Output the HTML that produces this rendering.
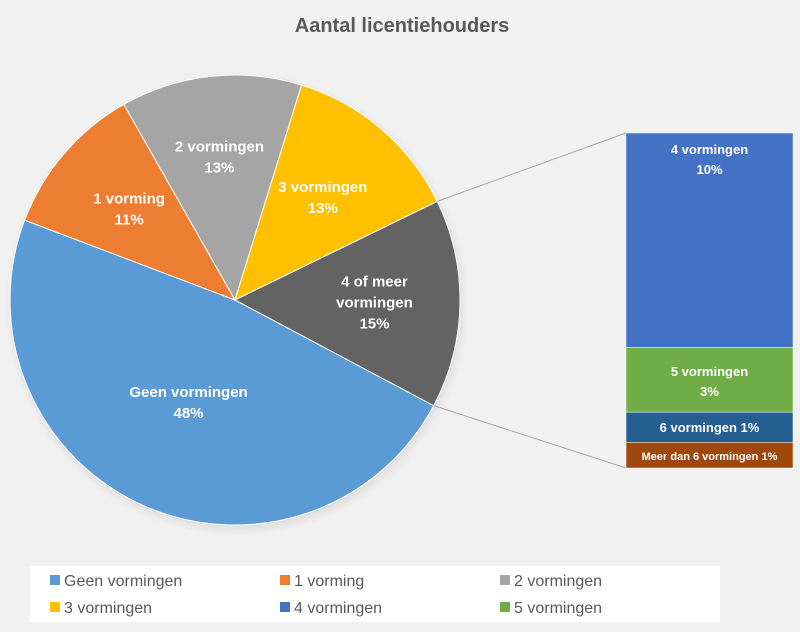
<!DOCTYPE html>
<html><head><meta charset="utf-8"><style>
html,body{margin:0;padding:0;width:800px;height:632px;overflow:hidden;background:#f1f1f1;font-family:"Liberation Sans",sans-serif}
svg{display:block}
</style></head><body>
<svg id="chart" width="800" height="632">
<defs>
<radialGradient id="sh" cx="50%" cy="50%" r="50%"><stop offset="85%" stop-color="#000" stop-opacity="0.25"/><stop offset="100%" stop-color="#000" stop-opacity="0"/></radialGradient>
</defs>
<text x="402" y="32" text-anchor="middle" font-size="20" font-weight="bold" fill="#595959">Aantal licentiehouders</text>
<circle cx="237" cy="304" r="232" fill="url(#sh)"/>
<g id="pie"></g>
<g id="bar"></g>
<rect x="30" y="566" width="690" height="56" fill="#ffffff"/>
<g id="legend"></g>
</svg>
<script>
const pieLabels=["Geen vormingen","1 vorming","2 vormingen","3 vormingen","4 of meer vormingen"];
const pieValues=[48,11,13,13,15];
const pieColors=["#5b9bd5","#ed7d31","#a5a5a5","#ffc000","#636363"];
const barLabels=["4 vormingen","5 vormingen","6 vormingen","Meer dan 6 vormingen"];
const barValues=[9.6,2.9,1.35,1.15];
const barPrinted=["10%","3%","1%","1%"];
const barColors=["#4472c4","#70ad47","#255e91","#9e480e"];
const legendLabels=["Geen vormingen","1 vorming","2 vormingen","3 vormingen","4 vormingen","5 vormingen"];
const legendColors=["#5b9bd5","#ed7d31","#a5a5a5","#ffc000","#4472c4","#70ad47"];

const NS="http://www.w3.org/2000/svg";
function mk(t,a,p){const e=document.createElementNS(NS,t);for(const k in a)e.setAttribute(k,a[k]);p.appendChild(e);return e;}
const cx=235,cy=300,R=225,start=28;
const total=pieValues.reduce((a,b)=>a+b,0);
function pt(deg,r){const a=deg*Math.PI/180;return [cx+r*Math.cos(a),cy+r*Math.sin(a)];}
const pie=document.getElementById('pie');
let ang=start;
const lblPos=[[0.5,0],[0.62,0],[0.64,0],[0.6,0],[0.62,0]];
pieValues.forEach((v,i)=>{
  const sw=v/total*360,a0=ang,a1=ang+sw;
  const p0=pt(a0,R),p1=pt(a1,R);
  const path=mk('path',{d:`M${cx},${cy}L${p0[0]},${p0[1]}A${R},${R} 0 ${sw>180?1:0} 1 ${p1[0]},${p1[1]}Z`,fill:pieColors[i],stroke:'#fff','stroke-width':1},pie);
  
  
  const mid=(a0+a1)/2,lp=pt(mid,R*lblPos[i][0]);
  const lines=i===4?["4 of meer","vormingen",v+"%"]:[pieLabels[i],v+"%"];
  const t=mk('text',{x:lp[0],'text-anchor':'middle','font-size':15,'font-weight':'bold',fill:'#fff'},pie);
  
  
  lines.forEach((s,j)=>{const ts=mk('tspan',{x:lp[0],y:lp[1]+(j-(lines.length-1)/2)*21+5},t);ts.textContent=s;});
  ang=a1;
});
// bar
const bar=document.getElementById('bar');
const bx=626,bw=167,by=133,bh=335;
const bt=barValues.reduce((a,b)=>a+b,0);
const pa=pt(start-54,R),pb=pt(start,R);
const l1=mk('line',{x1:pa[0],y1:pa[1],x2:bx,y2:by,stroke:'#a6a6a6','stroke-width':1},bar);


const l2=mk('line',{x1:pb[0],y1:pb[1],x2:bx,y2:by+bh,stroke:'#a6a6a6','stroke-width':1},bar);


let y=by;
barValues.forEach((v,i)=>{
  const h=v/bt*bh;
  const r=mk('rect',{x:bx,y:y,width:bw,height:h,fill:barColors[i],stroke:'#fff','stroke-width':0.5},bar);
  
  
  const t=mk('text',{'text-anchor':'middle','font-weight':'bold',fill:'#fff','font-size':i===3?11:13},bar);
  
  
  const lines=i<2?[barLabels[i],barPrinted[i]]:[barLabels[i]+" "+barPrinted[i]];
  const ty=i===0?y+21:(i===1?y+h/2-4:y+h/2+5);
  lines.forEach((s,j)=>{const ts=mk('tspan',{x:bx+bw/2,y:ty+j*20},t);ts.textContent=s;});
  y+=h;
});
// legend
const lg=document.getElementById('legend');
const colX=[50,280,500];
legendLabels.forEach((s,i)=>{
  const x=colX[i%3],yy=580+Math.floor(i/3)*27;
  const g=mk('g',{},lg);
  
  
  mk('rect',{x:x,y:yy-5,width:10,height:10,fill:legendColors[i]},g);
  const t=mk('text',{x:x+14,y:yy+6,'font-size':16,fill:'#595959'},g);
  t.textContent=s;
});
</script>
</body></html>
